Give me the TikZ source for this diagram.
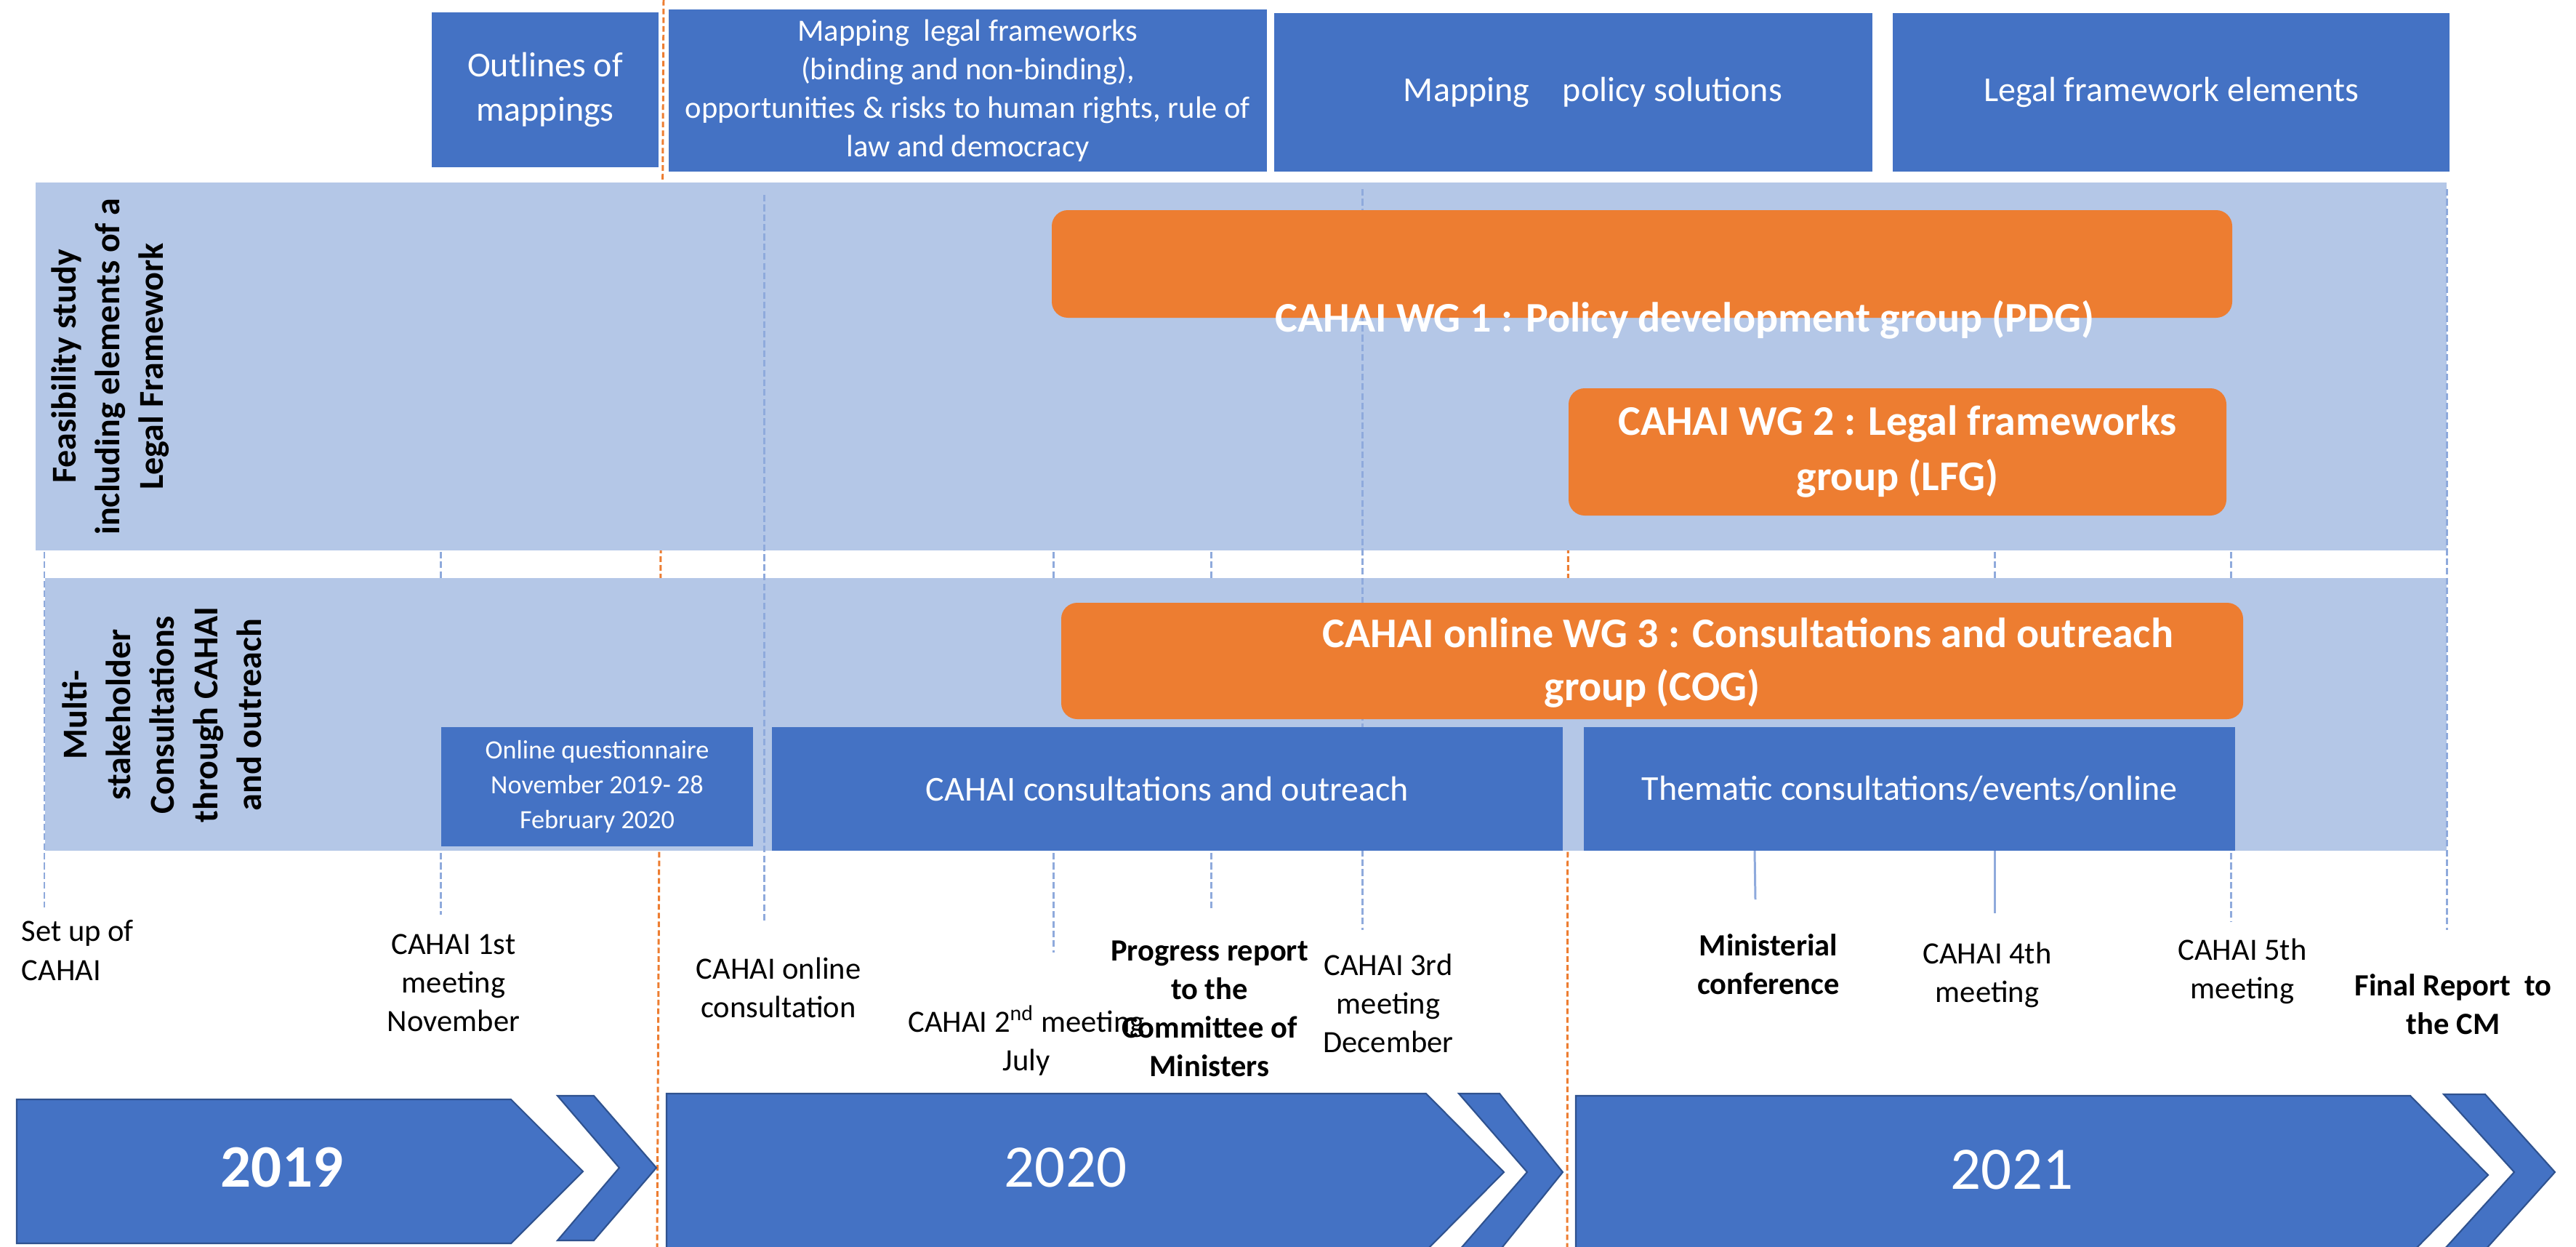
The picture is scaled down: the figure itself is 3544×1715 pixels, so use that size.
\documentclass[tikz,border=0pt]{standalone}
\usepackage{fontspec}
\setmainfont{Carlito}
\usetikzlibrary{fit}
\definecolor{boxblue}{HTML}{4472C4}
\definecolor{bandblue}{HTML}{B4C7E7}
\definecolor{wgorange}{HTML}{ED7D31}
\definecolor{tickblue}{HTML}{8FAADC}
\definecolor{edgeblue}{HTML}{2F528F}
\begin{document}
\begin{tikzpicture}[x=0.01cm, y=-0.01cm,
  phase/.style={fill=boxblue, draw=none, inner sep=0pt},
  phasetext/.style={text=white, align=center, inner sep=0pt,
    font={\fontsize{13.66}{17.35}\selectfont}},
  band/.style={fill=bandblue, draw=none, inner sep=0pt},
  bandlabel/.style={rotate=90, align=center, inner sep=0pt,
    font={\fontsize{13.66}{17.1}\selectfont\bfseries}},
  wg/.style={fill=wgorange, draw=none, inner sep=0pt, rounded corners=0.22cm},
  wgtext/.style={text=white, align=center, inner sep=0pt,
    font={\fontsize{16.5}{21.6}\selectfont\bfseries}},
  event/.style={align=center, inner sep=0pt, font={\fontsize{12.1}{15.1}\selectfont}},
  keyevent/.style={event, font={\fontsize{12.1}{15.1}\selectfont\bfseries}},
  tick/.style={draw=tickblue, line width=0.85pt, dash pattern=on 2.6pt off 1.2pt},
  solidtick/.style={draw=tickblue, line width=0.85pt},
  yearline/.style={draw=wgorange, line width=0.85pt, dash pattern=on 2.2pt off 1.2pt},
  yearshape/.style={fill=boxblue, draw=edgeblue, line width=0.6pt},
  yeartext/.style={text=white, inner sep=0pt, font={\fontsize{23.6}{28}\selectfont}}
]
\useasboundingbox (0,0) rectangle (3544,1715);
\clip (0,0) rectangle (3544,1715);

% year separators and milestone ticks lying behind the bands
\draw[yearline] (913,0) -- (904,1715);
\draw[yearline] (2158,251) -- (2156,1715);
\draw[tick] (61,251) -- (61,1248);
\draw[tick] (606,251) -- (606,1258);
\draw[tick] (1449,251) -- (1449,1310);
\draw[tick] (1666,251) -- (1666,1251);
\draw[tick] (2744,251) -- (2744,1170);
\draw[tick] (3069,251) -- (3069,1267);

% work phases along the top
\node[phase, fit={(594,17) (906,230)}] (outlines) {};
\node[phasetext] at (outlines.center) {Outlines of\\mappings};
\node[phase, fit={(920,13) (1743,236)}] (legalmap) {};
\node[phasetext, font={\fontsize{12.1}{15.1}\selectfont}] at (legalmap.center)
  {Mapping\ \ legal frameworks\\(binding and non-binding),\\opportunities \& risks to human rights, rule of\\law and democracy};
\node[phase, fit={(1753,18) (2576,236)}] (policymap) {};
\node[phasetext] at ([xshift=0.27cm]policymap.center) {Mapping\hspace{0.95em}policy solutions};
\node[phase, fit={(2604,18) (3370,236)}] (legalelem) {};
\node[phasetext] at (legalelem.center) {Legal framework elements};

% the two work streams
\node[band, fit={(49,251) (3366,757)}] (feas) {};
\node[band, fit={(62,795) (3366,1170)}] (multi) {};
\node[bandlabel] (feaslabel) at (152,504) {Feasibility study\\including elements of a\\Legal Framework};
\node[bandlabel] (multilabel) at (223,983) {Multi-\\stakeholder\\Consultations\\through CAHAI\\and outreach};

% ticks running across the bands
\draw[tick] (1051,268) -- (1051,1267);
\draw[tick] (1874,260) -- (1874,1279);
\draw[tick] (3366,260) -- (3366,1279);

% working groups
\node[wg, fit={(1447,289) (3071,437)}] (wg1) {};
\node[wgtext] (wg1text) at (2318,440) {CAHAI WG 1 : Policy development group (PDG)};
\node[wg, fit={(2158,534) (3063,709)}] (wg2) {};
\node[wgtext] (wg2text) at (wg2.center) {CAHAI WG 2 : Legal frameworks\\group (LFG)};
\node[wg, fit={(1460,829) (3086,989)}] (wg3) {};
\node[wgtext] (wg3texta) at (2405,870) {CAHAI online WG 3 : Consultations and outreach};
\node[wgtext] (wg3textb) at (2273,947) {group (COG)};

% consultation activities
\node[phase, fit={(607,1000) (1036,1164)}] (quest) {};
\node[phasetext, font={\fontsize{10.3}{13.66}\selectfont}] at (quest.center)
  {Online questionnaire\\November 2019- 28\\February 2020};
\node[phase, fit={(1062,1000) (2150,1170)}] (consult) {};
\node[phasetext] at (consult.center) {CAHAI consultations and outreach};
\node[phase, fit={(2179,1000) (3075,1170)}] (thematic) {};
\node[phasetext] at (thematic.center) {Thematic consultations/events/online};

% short solid ticks under the thematic block
\draw[solidtick] (2414,1170) -- (2415,1237);
\draw[solidtick] (2744,1170) -- (2744,1256);

% milestones
\node[event, anchor=west, align=left] (setup) at (29,1307) {Set up of\\CAHAI};
\node[event] (m1) at (624,1352) {CAHAI 1st\\meeting\\November};
\node[event] (online) at (1071,1358) {CAHAI online\\consultation};
\node[event] (m2) at (1412,1431) {CAHAI 2\textsuperscript{nd} meeting\\July};
\node[keyevent] (progress) at (1664,1387) {Progress report\\to the\\Committee of\\Ministers};
\node[event] (m3) at (1910,1380) {CAHAI 3rd\\meeting\\December};
\node[keyevent] (minconf) at (2433,1326) {Ministerial\\conference};
\node[event] (m4) at (2734,1341) {CAHAI 4th\\meeting};
\node[event] (m5) at (3085,1336) {CAHAI 5th\\meeting};
\node[keyevent] (final) at (3375,1381) {Final Report\ \ to\\the CM};

% year arrows
\path[yearshape] (23,1512) -- (703,1512) -- (802,1611) -- (703,1710) -- (23,1710) -- cycle;
\path[yearshape] (767,1507) -- (817,1507) -- (903,1606) -- (817,1706) -- (767,1706) -- (852,1606) -- cycle;
\path[yearshape] (917,1504) -- (1962,1504) -- (2069,1612) -- (1962,1720) -- (917,1720) -- cycle;
\path[yearshape] (2007,1504) -- (2063,1504) -- (2150,1612) -- (2063,1720) -- (2007,1720) -- (2101,1612) -- cycle;
\path[yearshape] (2168,1507) -- (3316,1507) -- (3423,1616) -- (3316,1725) -- (2168,1725) -- cycle;
\path[yearshape] (3362,1505) -- (3419,1505) -- (3515,1612) -- (3419,1719) -- (3362,1719) -- (3459,1612) -- cycle;
\node[yeartext, font={\fontsize{23.6}{28}\selectfont\bfseries}] (y2019) at (388,1606) {2019};
\node[yeartext] (y2020) at (1466,1606) {2020};
\node[yeartext] (y2021) at (2768,1609) {2021};
\end{tikzpicture}
\end{document}
